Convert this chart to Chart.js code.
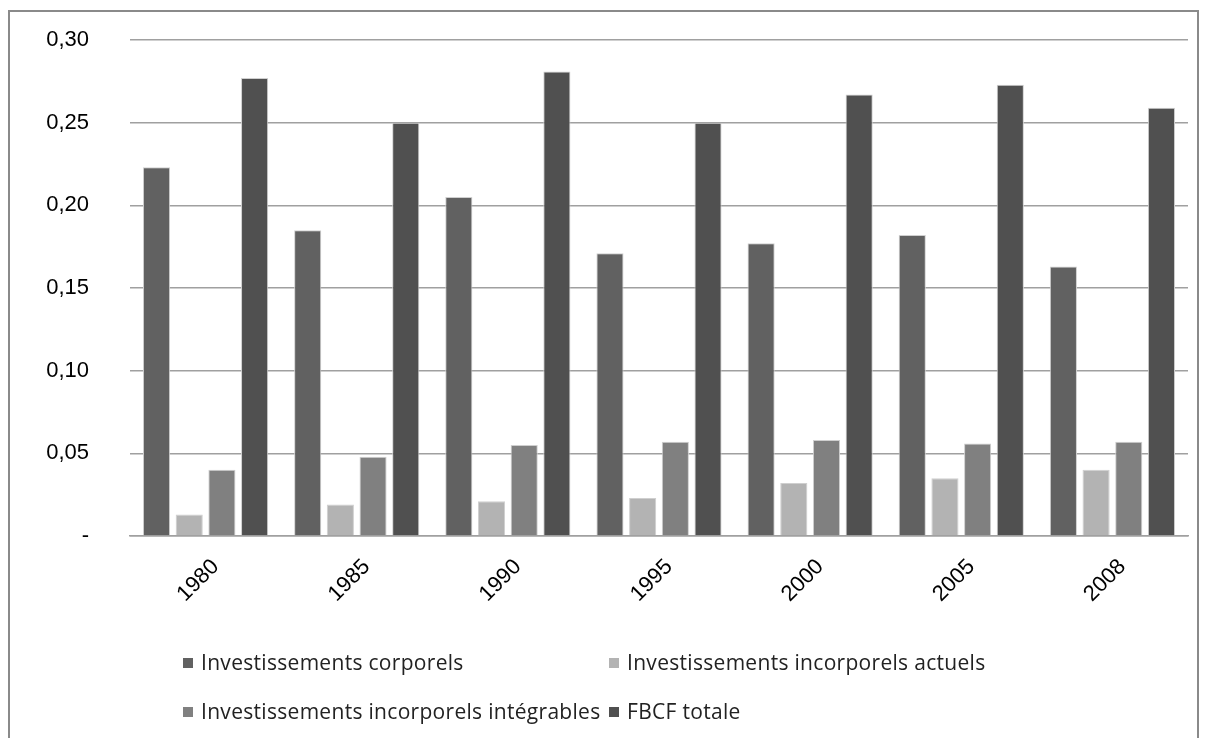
<!DOCTYPE html>
<html>
<head>
<meta charset="utf-8">
<script src="https://cdn.jsdelivr.net/npm/chart.js@4/dist/chart.umd.min.js"></script>
<style>
  html, body { margin: 0; padding: 0; background: #ffffff; overflow: hidden; }
  #frame { position: absolute; left: 8px; top: 10px; width: 1187px; height: 740px;
           border: 2px solid #8a8a8a; border-bottom: none; }
  #wrap { position: absolute; left: 0; top: 0; width: 1206px; height: 640px; }
  #legend { position: absolute; left: 0; top: 0; width: 1206px; height: 738px; pointer-events: none;
            font-family: "Open Sans", sans-serif; font-size: 21px; letter-spacing: 0.3px; color: #222; }
  .item { position: absolute; white-space: nowrap; line-height: 24px; height: 24px; }
  .box { position: absolute; width: 10px; height: 10px; top: 8px; left: 0; }
  .txt { position: absolute; left: 18px; top: 0; }
</style>
</head>
<body>
<div id="frame"></div>
<div id="wrap"><canvas id="c"></canvas></div>
<div id="legend"></div>
<script>
const categories = ['1980', '1985', '1990', '1995', '2000', '2005', '2008'];
const seriesNames = [
  'Investissements corporels',
  'Investissements incorporels actuels',
  'Investissements incorporels intégrables',
  'FBCF totale'
];
const corporels   = [0.223, 0.185, 0.205, 0.171, 0.177, 0.182, 0.163];
const actuels     = [0.013, 0.019, 0.021, 0.023, 0.032, 0.035, 0.040];
const integrables = [0.040, 0.048, 0.055, 0.057, 0.058, 0.056, 0.057];
const fbcf        = [0.277, 0.250, 0.281, 0.250, 0.267, 0.273, 0.259];
const yTickLabels = ['-', '0,05', '0,10', '0,15', '0,20', '0,25', '0,30'];
const colors = ['#616161', '#b3b3b3', '#808080', '#505050'];

const seriesValues = [corporels, actuels, integrables, fbcf];
const datasets = seriesValues.map((vals, i) => ({
  label: seriesNames[i],
  data: vals,
  backgroundColor: colors[i],
  borderColor: '#cfcfcf',
  borderWidth: 1,
  categoryPercentage: 0.865,
  barPercentage: 0.83
}));

const chart = new Chart(document.getElementById('c'), {
  type: 'bar',
  data: { labels: categories, datasets: datasets },
  options: {
    responsive: true,
    maintainAspectRatio: false,
    animation: false,
    layout: { padding: { top: 40, right: 18, left: 0, bottom: 0 } },
    plugins: { legend: { display: false }, tooltip: { enabled: false } },
    scales: {
      x: {
        grid: { display: false, drawTicks: false },
        border: { display: true, color: '#a0a0a0', width: 1.5 },
        ticks: {
          color: '#000', font: { family: 'Liberation Sans, Arial, sans-serif', size: 22 },
          minRotation: 45, maxRotation: 45, padding: 18, labelOffset: 10, autoSkip: false
        },
        afterFit: (s) => { s.height = 104; }
      },
      y: {
        min: 0, max: 0.30,
        grid: { color: '#a0a0a0', lineWidth: 1.5, drawTicks: false },
        border: { display: false },
        ticks: {
          stepSize: 0.05, padding: 41, color: '#000',
          font: { family: 'Liberation Sans, Arial, sans-serif', size: 22 },
          callback: (v, i) => yTickLabels[i]
        },
        afterFit: (s) => { s.width = 130; s.paddingTop = 0; s.paddingBottom = 0; }
      }
    }
  }
});

// legend (two columns, as in the reference)
const legendPos = [[183, 650], [609, 650], [183, 699], [609, 699]];
const legendEl = document.getElementById('legend');
chart.data.datasets.forEach((ds, i) => {
  const it = document.createElement('div');
  it.className = 'item';
  it.style.left = legendPos[i][0] + 'px';
  it.style.top = legendPos[i][1] + 'px';
  const b = document.createElement('span');
  b.className = 'box';
  b.style.background = ds.backgroundColor;
  const t = document.createElement('span');
  t.className = 'txt';
  t.textContent = ds.label;
  it.appendChild(b); it.appendChild(t);
  legendEl.appendChild(it);
});
</script>
</body>
</html>
